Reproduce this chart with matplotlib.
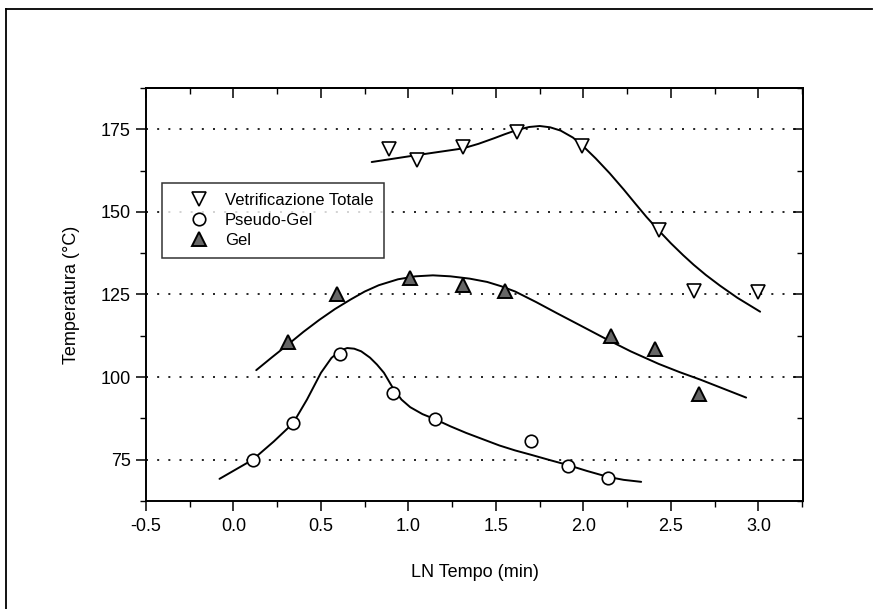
import matplotlib
matplotlib.use("Agg")
import matplotlib.pyplot as plt
from matplotlib.ticker import MultipleLocator
from matplotlib.lines import Line2D

plt.rcParams['font.family'] = ['Liberation Sans', 'DejaVu Sans']

# Measured transition temperatures vs ln(time)
vt_x = [0.89, 1.05, 1.31, 1.62, 1.99, 2.43, 2.63, 3.00]
vt_y = [168.9, 165.6, 169.6, 174.3, 170.0, 144.4, 126.2, 125.8]

pg_x = [0.11, 0.34, 0.61, 0.91, 1.15, 1.70, 1.91, 2.14]
pg_y = [75.0, 86.0, 107.1, 95.2, 87.3, 80.8, 73.2, 69.5]

gel_x = [0.31, 0.59, 1.01, 1.31, 1.55, 2.16, 2.41, 2.66]
gel_y = [110.5, 125.3, 130.1, 128.0, 126.0, 112.5, 108.5, 95.0]

# Hand-drawn trend curves
vt_fit_x = [0.79, 1.05, 1.31, 1.40, 1.49, 1.55, 1.62, 1.69, 1.75, 1.81, 1.87, 1.94,
            2.00, 2.07, 2.15, 2.23, 2.30, 2.36, 2.43, 2.50, 2.57, 2.63, 2.70, 2.78,
            2.88, 3.01]
vt_fit_y = [165.1, 167.2, 169.2, 170.6, 172.3, 173.5, 174.8, 175.7, 176.0, 175.6, 174.6, 172.5,
            169.8, 166.2, 161.7, 156.8, 152.3, 148.5, 144.4, 140.5, 136.9, 134.0, 130.9, 127.7,
            124.0, 119.8]

gel_fit_x = [0.13, 0.22, 0.31, 0.40, 0.49, 0.58, 0.67, 0.75, 0.83, 0.94, 1.04, 1.14,
             1.24, 1.35, 1.45, 1.53, 1.61, 1.73, 1.85, 1.98, 2.12, 2.27, 2.43, 2.55,
             2.67, 2.80, 2.93]
gel_fit_y = [102.1, 106.0, 109.8, 113.7, 117.3, 120.6, 123.5, 125.9, 127.8, 129.6, 130.5, 130.8,
             130.5, 129.8, 128.8, 127.5, 125.9, 122.7, 119.3, 115.7, 111.8, 107.8, 104.0, 101.5,
             99.2, 96.5, 93.8]

pg_fit_x = [-0.08, 0.11, 0.23, 0.34, 0.42, 0.50, 0.56, 0.61, 0.65, 0.69, 0.73, 0.78,
            0.82, 0.86, 0.91, 0.96, 1.01, 1.08, 1.15, 1.24, 1.33, 1.43, 1.52, 1.61,
            1.70, 1.80, 1.91, 2.02, 2.14, 2.23, 2.33]
pg_fit_y = [69.2, 75.0, 80.5, 86.0, 93.2, 101.3, 105.8, 108.0, 108.8, 108.6, 107.8, 105.9,
            103.8, 101.3, 96.8, 93.2, 90.9, 88.8, 87.3, 85.1, 83.1, 81.1, 79.3, 77.8,
            76.5, 75.0, 73.4, 71.6, 69.8, 68.9, 68.3]

x_ticks = [-0.5, 0.0, 0.5, 1.0, 1.5, 2.0, 2.5, 3.0]
y_ticks = [75, 100, 125, 150, 175]

fig = plt.figure(figsize=(8.75, 6.09), dpi=100)
ax = fig.add_axes([146 / 875, 1 - 501 / 609, (803 - 146) / 875, (501 - 88) / 609])

ax.set_xlim(-0.5, 3.255)
ax.set_ylim(62.5, 187.5)

# dotted horizontal guides
for yv in y_ticks:
    ax.axhline(yv, color='black', lw=1.2, linestyle=(0, (1.2, 5.5)), zorder=1)

for cx, cy in [(vt_fit_x, vt_fit_y), (gel_fit_x, gel_fit_y), (pg_fit_x, pg_fit_y)]:
    ax.plot(cx, cy, color='black', lw=1.4, zorder=2,
            solid_joinstyle='round', solid_capstyle='round')

ax.plot(vt_x, vt_y, linestyle='none', marker='v', ms=10, mfc='white', mec='black',
        mew=1.2, zorder=3, label='Vetrificazione Totale')
ax.plot(pg_x, pg_y, linestyle='none', marker='o', ms=9, mfc='white', mec='black',
        mew=1.2, zorder=3, label='Pseudo-Gel')
ax.plot(gel_x, gel_y, linestyle='none', marker='^', ms=10, mfc='0.4', mec='black',
        mew=1.4, zorder=3, label='Gel')

ax.set_xticks(x_ticks)
ax.set_xticklabels(['-0.5', '0.0', '0.5', '1.0', '1.5', '2.0', '2.5', '3.0'])
ax.set_yticks(y_ticks)
ax.xaxis.set_minor_locator(MultipleLocator(0.25))
ax.yaxis.set_minor_locator(MultipleLocator(12.5))
ax.tick_params(which='major', direction='out', length=7, width=1.1, labelsize=13, pad=4)
ax.tick_params(axis='x', which='major', pad=5)
ax.tick_params(which='minor', direction='out', length=4, width=1.0)

top = ax.secondary_xaxis('top')
top.set_xticks(x_ticks)
top.xaxis.set_minor_locator(MultipleLocator(0.25))
top.tick_params(which='major', direction='in', length=7, width=1.1, labeltop=False)
top.tick_params(which='minor', direction='in', length=4, width=1.0)
right = ax.secondary_yaxis('right')
right.set_yticks(y_ticks)
right.yaxis.set_minor_locator(MultipleLocator(12.5))
right.tick_params(which='major', direction='in', length=7, width=1.1, labelright=False)
right.tick_params(which='minor', direction='in', length=4, width=1.0)

for s in ax.spines.values():
    s.set_linewidth(1.4)
top.spines['top'].set_linewidth(1.4)
right.spines['right'].set_linewidth(1.4)

ax.set_xlabel('LN Tempo (min)', fontsize=13, labelpad=21)
ax.set_ylabel('Temperatura (°C)', fontsize=13, labelpad=15)

leg = ax.legend(loc='upper left', bbox_to_anchor=(0.024, 0.770), borderaxespad=0,
                frameon=True, fancybox=False, edgecolor='black', fontsize=12,
                handlelength=3.3, handletextpad=-0.1, labelspacing=0.3,
                borderpad=0.6)
leg.get_frame().set_linewidth(1.1)

# outer border of the page
fig.add_artist(Line2D([6 / 875, 872 / 875], [1 - 9 / 609, 1 - 9 / 609],
                      transform=fig.transFigure, color='black', lw=1.3))
fig.add_artist(Line2D([6 / 875, 6 / 875], [1 - 9 / 609, 0],
                      transform=fig.transFigure, color='black', lw=1.3))

fig.savefig('out.png', dpi=100)
